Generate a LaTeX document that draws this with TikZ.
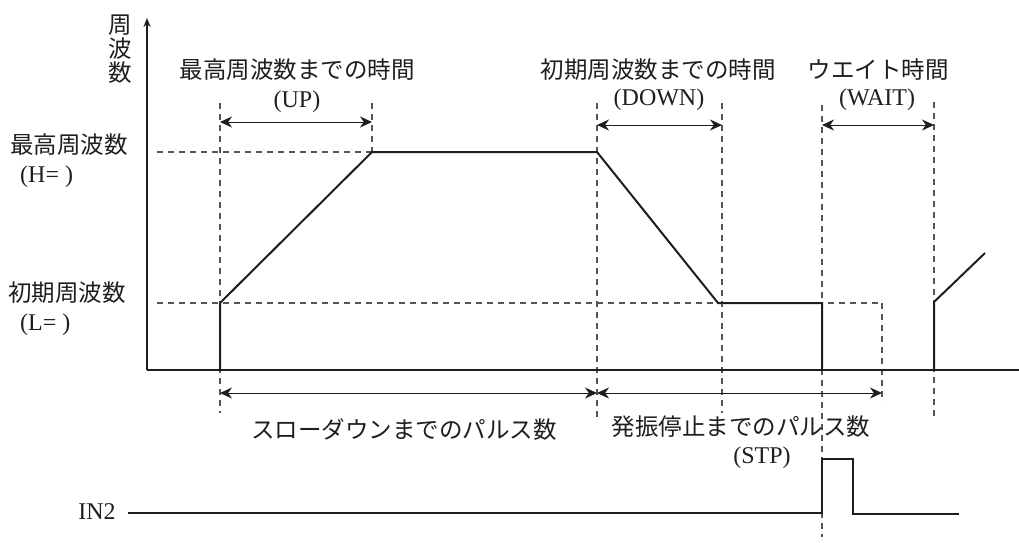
\documentclass[tikz,border=0pt]{standalone}
\usepackage{fontspec}
\setmainfont{Liberation Serif}
\newfontfamily\jpfont{Noto Sans CJK JP}
\usetikzlibrary{arrows.meta,positioning}
\definecolor{guide}{RGB}{85,85,85}
\definecolor{trace}{RGB}{30,30,30}

\begin{document}
\begin{tikzpicture}[x=1pt,y=-1pt,
  every node/.style={font=\fontsize{24}{24}\selectfont,inner sep=0pt,text=trace},
  jp/.style={font=\jpfont\fontsize{23.5}{24}\selectfont},
  guideline/.style={draw=guide,line width=1.3pt,dash pattern=on 6pt off 5pt},
  traceline/.style={draw=trace,line width=2pt,line join=miter},
  span/.style={draw=trace,line width=1pt,{Stealth[length=12pt,width=11pt]}-{Stealth[length=12pt,width=11pt]}}]
  \useasboundingbox (0,0) rectangle (1019,542);

  % time marks
  \coordinate (o) at (147,370);
  \coordinate (tUp) at (220,370);
  \coordinate (tH) at (372,370);
  \coordinate (tDn) at (597,370);
  \coordinate (tL) at (722,370);
  \coordinate (tStp) at (822,370);
  \coordinate (tEnd) at (882,370);
  \coordinate (tW) at (934,370);

  % guides
  \draw[guideline] (157,152) -- (tH |- 0,152);
  \draw[guideline] (157,303) -- (tEnd |- 0,303);
  \foreach \t/\top/\bot in {tUp/103/413,tH/103/152,tDn/103/422,tL/103/413,tStp/105/537,tEnd/303/402,tW/102/420}
    \draw[guideline] (\t |- 0,\top) -- (\t |- 0,\bot);

  % axes
  \draw[traceline,-{Stealth[length=9pt,width=7pt]}] (o) -- (147,18);
  \draw[traceline] (o) -- (1019,370);
  \node[jp,align=center] (fq) at (120,49) {周\\波\\数};

  % frequency profile
  \draw[traceline] (tUp) -- (tUp |- 0,303) -- (tH |- 0,152) -- (tDn |- 0,152)
    -- (718,303) -- (tStp |- 0,303) -- (tStp);
  \draw[traceline] (tW) -- (tW |- 0,302) -- (985,253);

  % level labels
  \node[jp] (fH) at (69,145) {最高周波数};
  \node[anchor=west] (fHv) at (20,177) {(H= )};
  \node[jp] (fL) at (67,293) {初期周波数};
  \node[anchor=west] (fLv) at (20,325) {(L= )};

  % time spans
  \draw[span] (tUp |- 0,122) -- (tH |- 0,122);
  \draw[span] (tDn |- 0,125) -- (tL |- 0,125);
  \draw[span] (tStp |- 0,125) -- (tW |- 0,125);
  \node[jp] (upT) at (297,70) {最高周波数までの時間};
  \node (upK) at (297,102) {(UP)};
  \node[jp] (dnT) at (658,70) {初期周波数までの時間};
  \node (dnK) at (659,100) {(DOWN)};
  \node[jp] (wT) at (878,70) {ウエイト時間};
  \node (wK) at (877,100) {(WAIT)};

  % pulse counts
  \draw[span] (tUp |- 0,393) -- (tDn |- 0,393);
  \draw[span] (tDn |- 0,393) -- (tEnd |- 0,393);
  \node[jp] (sdT) at (404,430) {スローダウンまでのパルス数};
  \node[jp] (stT) at (741,427) {発振停止までのパルス数};
  \node (stK) at (762,458) {(STP)};

  % input
  \node (in) at (97,512) {IN2};
  \draw[traceline] (128,513) -- (tStp |- 0,513) -- (tStp |- 0,459) -- (853,459)
    -- (853,514) -- (959,514);
\end{tikzpicture}
\end{document}
